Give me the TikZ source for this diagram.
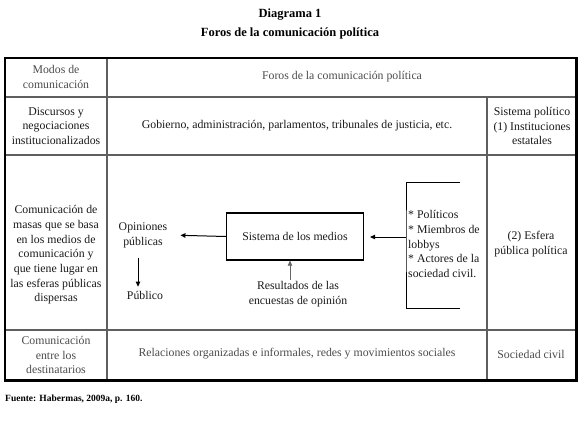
\documentclass[tikz,border=0pt]{standalone}
\usepackage{fontspec}
\setmainfont{Liberation Serif}
\usetikzlibrary{positioning,arrows.meta}
\definecolor{fcline}{RGB}{95,95,95}
\definecolor{fctext}{RGB}{25,25,25}
\definecolor{fcsoft}{RGB}{75,75,75}
\tikzset{
  fc/.style={font=\fontsize{11.8}{14.7}\selectfont, text=fctext},
  fccell/.style={fc, align=center, inner sep=1pt},
  fcsoftcell/.style={fccell, text=fcsoft},
  fcgrid/.style={draw=fcline, line width=1.3pt},
  fcframe/.style={draw=black, line width=1.6pt},
  fcshadow/.style={draw=black, line width=3pt},
  fcbox/.style={fc, draw=black, line width=1.2pt, minimum width=137pt, minimum height=47pt},
  fcarr/.style={-{Triangle[length=5pt,width=4.5pt]}, line width=1pt, draw=black},
  fcthinarr/.style={fcarr, line width=0.6pt, draw=black!60},
  fcbracket/.style={draw=black, line width=1pt},
  fctitle/.style={font=\fontsize{12.5}{15.5}\selectfont\bfseries},
}

\begin{document}
\begin{tikzpicture}[x=1pt, y=-1pt]
  \useasboundingbox (0,0) rectangle (580,420);

  % titulo
  \node[fctitle] (titulo) at (290,15) {Diagrama 1};
  \node[fctitle, below=0pt of titulo] (subtitulo) {Foros de la comunicación política};

  % rejilla de la tabla
  \draw[fcgrid] (5,97) -- (577,97);
  \draw[fcgrid] (5,155) -- (577,155);
  \draw[fcgrid] (5,330) -- (577,330);
  \draw[fcgrid] (107,58) -- (107,380);
  \draw[fcgrid] (487,97) -- (487,380);
  \draw[fcframe] (5,380) -- (5,58) -- (577,58);
  \draw[fcshadow] (576.5,57.2) -- (576.5,380.5) -- (4.2,380.5);

  % fila 1
  \node[fcsoftcell] (modos) at (56,77) {Modos de\\comunicación};
  \node[fcsoftcell] (foros) at (342,77) {Foros de la comunicación política};

  % fila 2
  \node[fccell] (discursos) at (56,126) {Discursos y\\negociaciones\\institucionalizados};
  \node[fccell] (gobierno) at (297,126) {Gobierno, administración, parlamentos, tribunales de justicia, etc.};
  \node[fccell] (sistpol) at (532,126) {Sistema político\\(1) Instituciones\\estatales};

  % fila 3
  \node[fccell] (masas) at (56,255) {Comunicación de\\masas que se basa\\en los medios de\\comunicación y\\que tiene lugar en\\las esferas públicas\\dispersas};
  \node[fcbox] (medios) at (295,236.5) {Sistema de los medios};
  \node[fccell] (opiniones) at (143,235) {Opiniones\\públicas};
  \node[fccell] (publico) at (145,295) {Público};
  \node[fccell] (resultados) at (298,294) {Resultados de las\\encuestas de opinión};
  \node[fccell, align=left, anchor=west] (actores) at (407,244) {* Políticos\\* Miembros de\\lobbys\\* Actores de la\\sociedad civil.};
  \node[fccell] (esfera) at (531,244) {(2) Esfera\\pública política};

  \coordinate (brtop) at (460,182);
  \coordinate (brbot) at (460,308);
  \coordinate (brin) at (406,237);
  \draw[fcbracket] (brtop) -| (brin) |- (brbot);

  \draw[fcarr, shorten >=12pt] (medios.west) -- (opiniones.east);
  \draw[fcarr] ([xshift=-5pt, yshift=-9pt]opiniones.south) -- ([xshift=-7pt, yshift=3pt]publico.north);
  \draw[fcthinarr] ([xshift=-8pt]resultados.north) -- ([xshift=-5pt]medios.south);
  \draw[fcarr, shorten >=6pt] (brin) -- (brin -| medios.east);

  % fila 4
  \node[fcsoftcell] (destinat) at (56,355) {Comunicación\\entre los\\destinatarios};
  \node[fcsoftcell] (relaciones) at (297,354) {Relaciones organizadas e informales, redes y movimientos sociales};
  \node[fcsoftcell] (sociedad) at (531,354) {Sociedad civil};

  % fuente
  \node[font=\fontsize{9.5}{11}\selectfont\bfseries, anchor=west, inner sep=0pt] (fuente) at (5,399) {Fuente: Habermas, 2009a, p. 160.};
\end{tikzpicture}
\end{document}
